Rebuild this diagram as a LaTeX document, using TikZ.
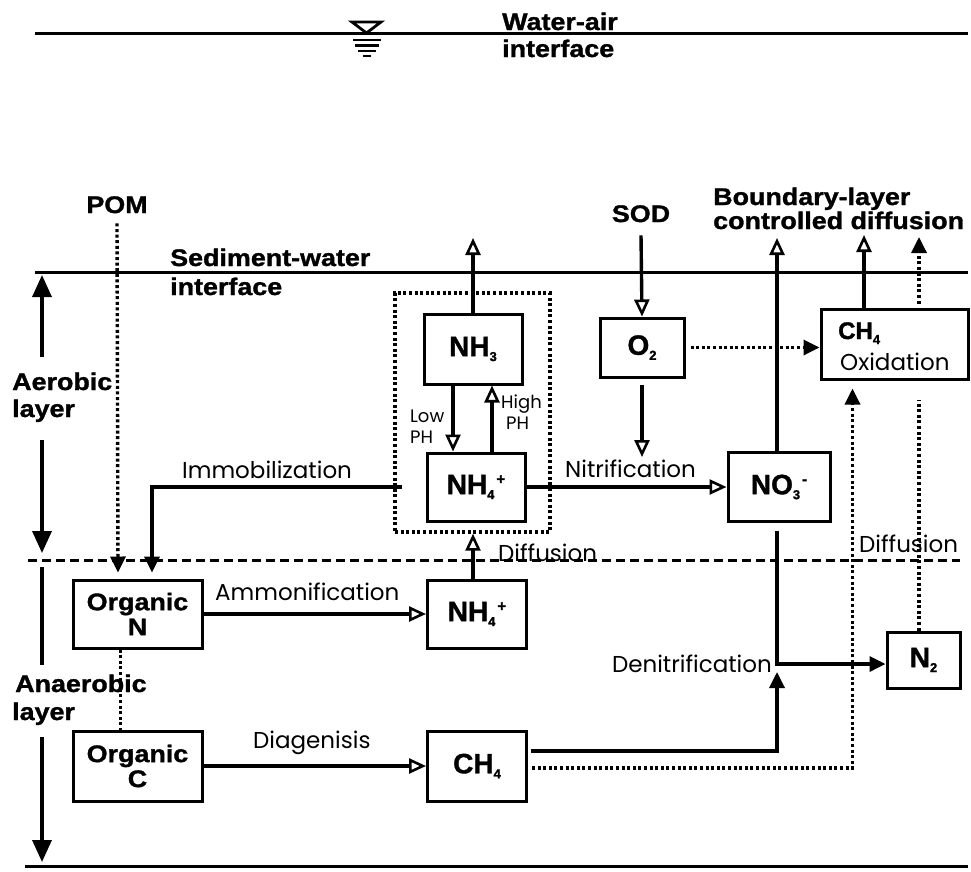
\documentclass[tikz,border=0pt]{standalone}
\usepackage{fontspec}
\setmainfont{Liberation Sans}
\newfontfamily\bwide[FakeStretch=1.12, BoldFeatures={FakeBold=1.3}]{Liberation Sans}
\newfontfamily\bnorm[BoldFeatures={FakeBold=1.3}]{Liberation Sans}
\newfontfamily\rfont{Poppins}
\usetikzlibrary{arrows.meta}
\newcommand\fBL{\bwide\bfseries\fontsize{24}{28}\selectfont}
\newcommand\fBX{\bnorm\bfseries\fontsize{28}{30}\selectfont}
\newcommand\fBO{\bwide\bfseries\fontsize{24}{27}\selectfont}
\newcommand\fRL{\rfont\fontsize{23}{26}\selectfont}
\newcommand\fSL{\rfont\fontsize{18}{20}\selectfont}
\newcommand\chs[1]{\raisebox{-5pt}{\fontsize{13}{13}\selectfont #1}}
\newcommand\chp[1]{\kern2pt\raisebox{10pt}{\fontsize{15}{15}\selectfont #1}}
\begin{document}
\begin{tikzpicture}[x=1pt,y=-1pt,
  bx/.style={draw, line width=3pt, inner sep=0pt, align=center, font=\fBX},
  txt/.style={inner sep=0pt},
  flow/.style={line width=3.4pt},
  oarr/.style={flow, -{Triangle[open, length=17pt, width=15pt, line width=2.6pt]}},
  farr/.style={flow, -{Triangle[length=16pt, width=15pt]}},
  barr/.style={flow, -{Triangle[length=22pt, width=19pt]}},
  dotln/.style={line width=3.4pt, dash pattern=on 3pt off 2.6pt},
  darr/.style={dotln, -{Triangle[length=16pt, width=15pt]}},
  iface/.style={line width=3pt},
]
\useasboundingbox (0,0) rectangle (971,871);

% interfaces
\draw[iface] (35,33) -- (968,33);
\draw[iface] (35,272) -- (968,272);
\draw[line width=3pt, dash pattern=on 9pt off 5pt] (28,560) -- (960,560);
\draw[iface] (25,866) -- (968,866);

% water symbol
\draw[line width=2.8pt, line join=miter] (352,22) -- (381,22) -- (366.5,33) -- cycle;
\draw[line width=2.4pt] (353,40) -- (381,40);
\draw[line width=2.4pt] (355,45.5) -- (379,45.5);
\draw[line width=2.4pt] (358,51) -- (376,51);
\draw[line width=2.4pt] (363,56) -- (371,56);

% bold labels
\node[txt, font=\fBL, anchor=base west] (wa1) at (502,30) {Water-air};
\node[txt, font=\fBL, anchor=base west] (wa2) at (502,57) {interface};
\node[txt, font=\fBL, anchor=base west] (sw1) at (170,266) {Sediment-water};
\node[txt, font=\fBL, anchor=base west] (sw2) at (170,295) {interface};
\node[txt, font=\fBL, anchor=base] (pom) at (117,213) {POM};
\node[txt, font=\fBL, anchor=base west] (aer1) at (12,390) {Aerobic};
\node[txt, font=\fBL, anchor=base west] (aer2) at (12,417) {layer};
\node[txt, font=\fBL, anchor=base west] (ana1) at (15,692) {Anaerobic};
\node[txt, font=\fBL, anchor=base west] (ana2) at (12,720) {layer};
\node[txt, font=\fBL, anchor=base] (sod) at (641,222) {SOD};
\node[txt, font=\fBL, anchor=base west] (bl1) at (713,205) {Boundary-layer};
\node[txt, font=\fBL, anchor=base west] (bl2) at (713,229) {controlled diffusion};

% regular labels
\node[txt, font=\fRL, anchor=base west] (lImmo) at (182,478) {Immobilization};
\node[txt, font=\fRL, anchor=base west] (lAmmo) at (215,600) {Ammonification};
\node[txt, font=\fRL, anchor=base west] (lNitr) at (565,477) {Nitrification};
\node[txt, font=\fRL, anchor=base west] (lDif1) at (498,561) {Diffusion};
\node[txt, font=\fRL, anchor=base west] (lDif2) at (859,552) {Diffusion};
\node[txt, font=\fRL, anchor=base east] (lDeni) at (772,672) {Denitrification};
\node[txt, font=\fRL, anchor=base west] (lDiag) at (253,748) {Diagenisis};
\node[txt, font=\fSL, anchor=base west] (lLow1) at (410,422) {Low};
\node[txt, font=\fSL, anchor=base west] (lLow2) at (410,443) {PH};
\node[txt, font=\fSL, anchor=base west] (lHi1) at (501,408) {High};
\node[txt, font=\fSL, anchor=base west] (lHi2) at (506,429) {PH};

% dotted group box
\node[draw, dotln, minimum width=155pt, minimum height=239pt, inner sep=0pt] (nhbox) at (472.5,412.5) {};

% boxes
\node[bx, minimum width=98pt, minimum height=70pt] (nh3) at (473,349) {NH\chs{3}};
\node[bx, minimum width=98pt, minimum height=68pt] (nh4u) at (476,487) {NH\chs{4}\chp{+}};
\node[bx, minimum width=99pt, minimum height=68pt] (nh4l) at (477,614) {NH\chs{4}\chp{+}};
\node[bx, minimum width=99pt, minimum height=70pt] (ch4b) at (477,766) {CH\chs{4}};
\node[bx, font=\fBO, minimum width=129pt, minimum height=68pt] (orgn) at (137.5,614) {Organic\\[-2pt]N};
\node[bx, font=\fBO, minimum width=129pt, minimum height=70pt] (orgc) at (137.5,766) {Organic\\[-2pt]C};
\node[bx, minimum width=84pt, minimum height=59pt] (o2) at (642,347.5) {O\chs{2}};
\node[bx, minimum width=102pt, minimum height=69pt] (no3) at (779,487) {NO\chs{3}\chp{-}};
\node[bx, minimum width=147pt, minimum height=70pt] (ch4ox) at (894.5,344) {};
\node[txt, font=\bnorm\bfseries\fontsize{24}{26}\selectfont, anchor=base west] (ch4t) at (838,339) {CH\chs{4}};
\node[txt, font=\fRL, anchor=base west] (oxt) at (840,370) {Oxidation};
\node[bx, minimum width=73pt, minimum height=56pt] (n2) at (923.5,660) {N\chs{2}};

% free ends
\coordinate (nh3up) at (473,238);
\coordinate (immo) at (402,487);
\coordinate (o2dn) at (642,457);
\coordinate (no3up) at (777,238);
\coordinate (denit) at (777,664);
\coordinate (ch4up) at (864,235);
\coordinate (n2up) at (919,237);
\coordinate (aerA) at (42,357);
\coordinate (aerB) at (42,275);
\coordinate (aerC) at (42,440);
\coordinate (aerD) at (42,553);
\coordinate (anaA) at (42,567);
\coordinate (anaB) at (42,665);
\coordinate (anaC) at (42,737);
\coordinate (anaD) at (42,862);

% layer arrows
\draw[barr] (aerA) -- (aerB);
\draw[barr] (aerC) -- (aerD);
\draw[flow] (anaA) -- (anaB);
\draw[barr] (anaC) -- (anaD);

% connectors
\draw[oarr] (nh3) -- (nh3up);
\draw[oarr] ([xshift=-20pt]nh3.south) -- ([xshift=-23pt]nh4u.north);
\draw[oarr] ([xshift=16pt]nh4u.north) -- ([xshift=19pt]nh3.south);
\draw[farr] (immo) -| ([xshift=14.5pt,yshift=6pt]orgn.north);
\draw[darr] ([yshift=-10pt]pom.south) -- ([xshift=-19.5pt,yshift=6pt]orgn.north);
\draw[dotln] ([xshift=-17pt]orgn.south) -- ([xshift=-17pt]orgc.north);
\draw[oarr] (orgn) -- (nh4l);
\draw[oarr] (orgc) -- (ch4b);
\draw[oarr] ([xshift=-4pt]nh4l.north) -- ([xshift=0.5pt]nhbox.south);
\draw[oarr] (nh4u) -- (no3);
\draw[oarr] ([yshift=-13pt]sod.south) -- (o2.north);
\draw[oarr] ([yshift=-6pt]o2.south) -- (o2dn);
\draw[darr] ([xshift=5pt]o2.east) -- (o2.east -| ch4ox.west);
\draw[oarr] ([xshift=-2pt]no3.north) -- (no3up);
\draw[farr] ([xshift=-2pt,yshift=-8pt]no3.south) -- (denit) -- (denit -| n2.west);
\draw[farr] ([xshift=3pt,yshift=15pt]ch4b.east) -| ([yshift=-8pt]denit);
\draw[darr] ([xshift=4pt,yshift=-2pt]ch4b.east) -| ([xshift=-42pt,yshift=-8pt]ch4ox.south);
\draw[oarr] ([xshift=-30.5pt]ch4ox.north) -- (ch4up);
\draw[dotln] ([xshift=-4.5pt]n2.north) -- ([xshift=24.5pt,yshift=-19pt]ch4ox.south);
\draw[darr] ([xshift=24.5pt,yshift=4pt]ch4ox.north) -- (n2up);
\end{tikzpicture}
\end{document}
